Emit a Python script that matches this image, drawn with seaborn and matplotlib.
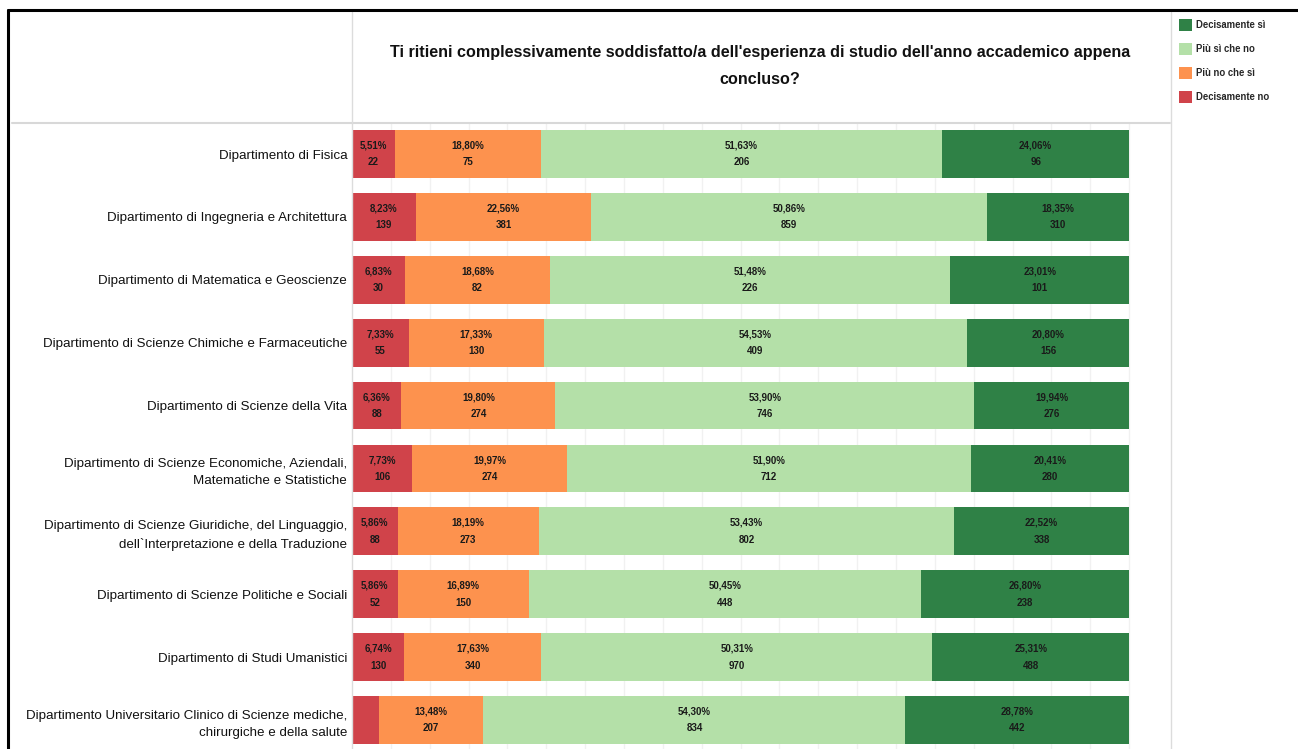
import numpy as np
import pandas as pd
import seaborn as sns
import matplotlib.pyplot as plt
from matplotlib import font_manager
from matplotlib.patches import Patch
from matplotlib.lines import Line2D

# -------------------------------
# Data
# -------------------------------
departments = [
    "Dipartimento di Fisica",
    "Dipartimento di Ingegneria e Architettura",
    "Dipartimento di Matematica e Geoscienze",
    "Dipartimento di Scienze Chimiche e Farmaceutiche",
    "Dipartimento di Scienze della Vita",
    "Dipartimento di Scienze Economiche, Aziendali,\nMatematiche e Statistiche",
    "Dipartimento di Scienze Giuridiche, del Linguaggio,\ndell`Interpretazione e della Traduzione",
    "Dipartimento di Scienze Politiche e Sociali",
    "Dipartimento di Studi Umanistici",
    "Dipartimento Universitario Clinico di Scienze mediche,\nchirurgiche e della salute",
]

categories = ["Decisamente no", "Più no che sì", "Più sì che no", "Decisamente sì"]

pct_dec_no = [5.51, 8.23, 6.83, 7.33, 6.36, 7.73, 5.86, 5.86, 6.74, 3.44]
pct_piu_no = [18.80, 22.56, 18.68, 17.33, 19.80, 19.97, 18.19, 16.89, 17.63, 13.48]
pct_piu_si = [51.63, 50.86, 51.48, 54.53, 53.90, 51.90, 53.43, 50.45, 50.31, 54.30]
pct_dec_si = [24.06, 18.35, 23.01, 20.80, 19.94, 20.41, 22.52, 26.80, 25.31, 28.78]

n_dec_no = [22, 139, 30, 55, 88, 106, 88, 52, 130, 53]
n_piu_no = [75, 381, 82, 130, 274, 274, 273, 150, 340, 207]
n_piu_si = [206, 859, 226, 409, 746, 712, 802, 448, 970, 834]
n_dec_si = [96, 310, 101, 156, 276, 280, 338, 238, 488, 442]

colors = {
    "Decisamente no": "#d0434a",
    "Più no che sì": "#fd924e",
    "Più sì che no": "#b4e0a8",
    "Decisamente sì": "#2f8146",
}

title = ("Ti ritieni complessivamente soddisfatto/a dell'esperienza di studio "
         "dell'anno accademico appena\nconcluso?")

# -------------------------------
# Build table
# -------------------------------
df = pd.DataFrame({
    "dept": departments,
    "Decisamente no": pct_dec_no,
    "Più no che sì": pct_piu_no,
    "Più sì che no": pct_piu_si,
    "Decisamente sì": pct_dec_si,
})
counts = pd.DataFrame({
    "Decisamente no": n_dec_no,
    "Più no che sì": n_piu_no,
    "Più sì che no": n_piu_si,
    "Decisamente sì": n_dec_si,
})
cum = df[categories].cumsum(axis=1)

# -------------------------------
# Style / fonts
# -------------------------------
sns.set_theme(style="white")
available = {f.name for f in font_manager.fontManager.ttflist}
narrow = "Liberation Sans Narrow" if "Liberation Sans Narrow" in available else "Liberation Sans"
plt.rcParams["font.family"] = [narrow, "DejaVu Sans"]
k = 1.0 if narrow == "Liberation Sans Narrow" else 0.88  # shrink when no narrow face

W, H = 1298, 749
fig = plt.figure(figsize=(W / 100, H / 100), dpi=100)
fig.patch.set_facecolor("white")

ax_left, ax_right, ax_top = 352, 1168, 123
ax = fig.add_axes([ax_left / W, 0, (ax_right - ax_left) / W, (H - ax_top) / H])

# stacked bars: draw cumulative totals from the widest down
for cat in categories[::-1]:
    sns.barplot(x=cum[cat], y=df["dept"], orient="h", color=colors[cat],
                width=0.76, saturation=1, ax=ax, edgecolor="none")

# segment labels
for i in range(len(df)):
    for cat in categories:
        val = df.loc[i, cat]
        if val < 4:
            continue
        center = cum.loc[i, cat] - val / 2
        txt = f"{val:.2f}%".replace(".", ",") + f"\n{counts.loc[i, cat]}"
        ax.text(center, i, txt, ha="center", va="center", fontsize=8 * k,
                fontweight="bold", color="#1a1a1a", linespacing=1.85)

ax.set_xlim(0, 105)
ax.set_ylim(9.46, -0.493)
ax.set_xticks(np.arange(5, 105, 5))
ax.xaxis.grid(True, color="#f1f1f1", linewidth=1)
ax.set_axisbelow(True)
ax.tick_params(axis="x", bottom=False, labelbottom=False)
ax.set_yticks(range(len(departments)))
ax.set_yticklabels(departments, linespacing=1.6)
ax.tick_params(axis="y", left=False, length=0, pad=3.5,
               labelsize=11 * k, labelcolor="#111111")
ax.set_xlabel("")
ax.set_ylabel("")
for s in ["top", "right", "bottom"]:
    ax.spines[s].set_visible(False)
ax.spines["left"].set_color("#dcdcdc")
ax.spines["left"].set_linewidth(1)

# header / panel lines
def fx(px):
    return px / W

def fy(py):
    return 1 - py / H

fig.add_artist(Line2D([fx(12), fx(1170)], [fy(123), fy(123)], color="#d8d8d8", lw=1.5))
fig.add_artist(Line2D([fx(352), fx(352)], [fy(12), fy(123)], color="#dcdcdc", lw=1))
fig.add_artist(Line2D([fx(1171), fx(1171)], [fy(12), 0], color="#dcdcdc", lw=1))
# black outer frame
fig.add_artist(Line2D([fx(8), 1], [fy(10), fy(10)], color="black", lw=2.2))
fig.add_artist(Line2D([fx(8), fx(8)], [fy(10), 0], color="black", lw=2.2))

# title
fig.text(fx(760), fy(66.5), title, ha="center", va="center", fontsize=13.2 * k,
         fontweight="bold", color="#111111", linespacing=2.0)

# legend
handles = [Patch(facecolor=colors[c], edgecolor="none") for c in categories[::-1]]
fig.legend(handles, categories[::-1], loc="upper left",
           bbox_to_anchor=(fx(1179), fy(19)), frameon=False,
           handlelength=1.35, handleheight=1.55, handletextpad=0.45,
           labelspacing=1.25, borderaxespad=0, borderpad=0,
           prop={"weight": "bold", "size": 7.8 * k})

fig.savefig("out.png", dpi=100)
